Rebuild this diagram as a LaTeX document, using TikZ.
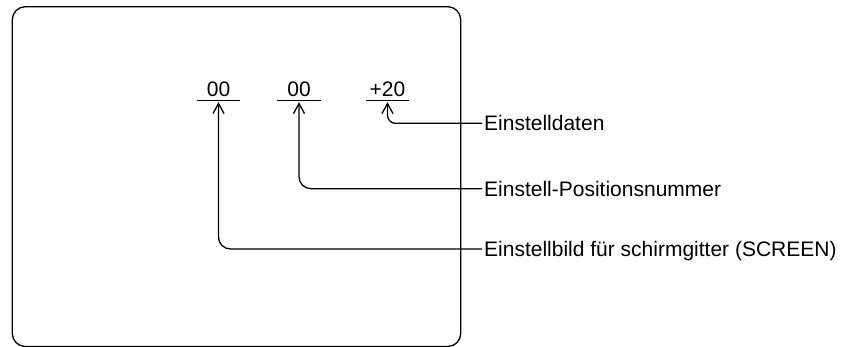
\documentclass[tikz,border=0pt]{standalone}
\usepackage{fontspec}
\setmainfont{Liberation Sans}
\usetikzlibrary{arrows.meta}
\pgfdeclarelayer{edgelayer}
\pgfdeclarelayer{nodelayer}
\pgfsetlayers{edgelayer,nodelayer,main}
\tikzstyle{frame}=[draw=black, line width=1.3pt, rounded corners=13pt]
\tikzstyle{rule}=[draw=black, line width=1.3pt]
\tikzstyle{value}=[anchor=south, inner xsep=0pt, inner ysep=4pt, minimum width=43pt, font=\fontsize{21}{24}\selectfont]
\tikzstyle{caption}=[anchor=west, inner sep=2pt, text height=15pt, text depth=0pt, font=\fontsize{21}{24}\selectfont]
\tikzstyle{pointer}=[draw=black, line width=1.3pt, rounded corners=12pt, -{Straight Barb[length=10pt,width=11pt]}, shorten >=1.5pt]

\begin{document}
\begin{tikzpicture}[x=1pt, y=-1pt]
			\useasboundingbox (0, 0) rectangle (842, 347);
			\begin{pgfonlayer}{nodelayer}
			\node [style=value] (1) at (218.5, 100.7) {00};
			\node [style=value] (2) at (299, 100.7) {00};
			\node [style=value] (3) at (387.5, 100.7) {+20};
			\node [style=caption] (4) at (482, 123.3) {Einstelldaten};
			\node [style=caption] (5) at (482, 188.7) {Einstell-Positionsnummer};
			\node [style=caption] (6) at (482, 249) {Einstellbild für schirmgitter (SCREEN)};
			\end{pgfonlayer}
			\begin{pgfonlayer}{edgelayer}
			\draw [style=frame] (12.3, 6.7) rectangle (460.7, 346.5);
			\draw [style=rule] (1.south west) to (1.south east);
			\draw [style=rule] (2.south west) to (2.south east);
			\draw [style=rule] (3.south west) to (3.south east);
			\draw [style=pointer, rounded corners=8pt] (4.west) -| (3.south);
			\draw [style=pointer] (5.west) -| (2.south);
			\draw [style=pointer] (6.west) -| (1.south);
			\end{pgfonlayer}
\end{tikzpicture}
\end{document}
